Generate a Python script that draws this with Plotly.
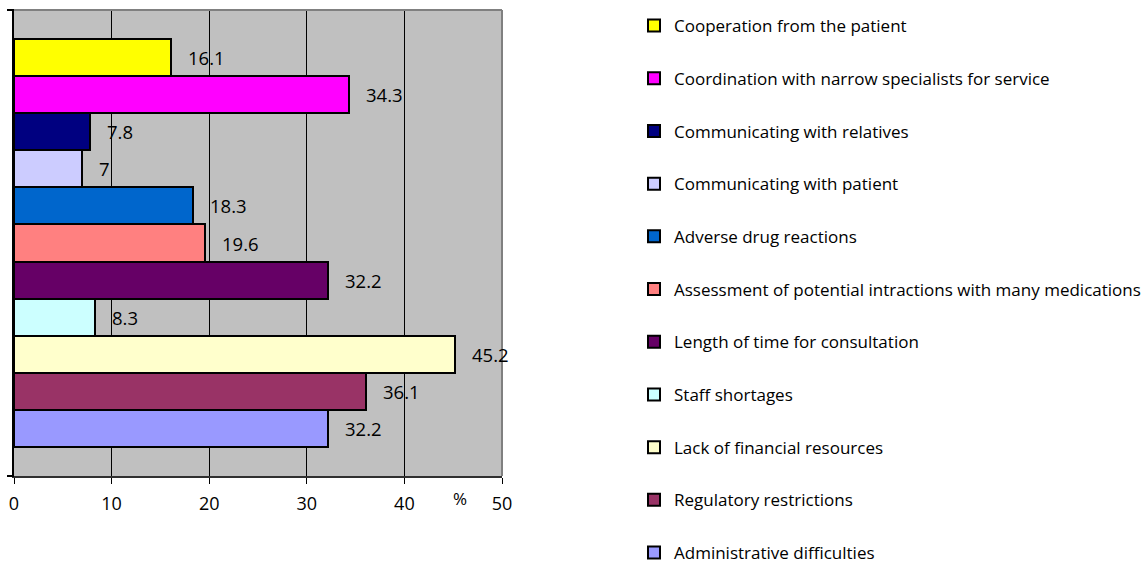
import plotly.graph_objects as go

# Survey difficulties, listed top to bottom as they appear in the chart
categories = [
    "Cooperation from the patient",
    "Coordination with narrow specialists for service",
    "Communicating with relatives",
    "Communicating with patient",
    "Adverse drug reactions",
    "Assessment of potential intractions with many medications",
    "Length of time for consultation",
    "Staff shortages",
    "Lack of financial resources",
    "Regulatory restrictions",
    "Administrative difficulties",
]
values = [16.1, 34.3, 7.8, 7, 18.3, 19.6, 32.2, 8.3, 45.2, 36.1, 32.2]
colors = [
    "#FFFF00", "#FF00FF", "#000080", "#CCCCFF", "#0066CC", "#FF8080",
    "#660066", "#CCFFFF", "#FFFFCC", "#993366", "#9999FF",
]
x_ticks = [0, 10, 20, 30, 40, 50]

FONT = "Open Sans"
W, H = 1148, 563
n = len(categories)
LEG_FONT = 17
BLOCK = 4          # entries per legend block
ROW = 52.7         # vertical distance between legend entries (px)
LEG_X = 634        # left edge of the legend (px)
LEG_TOP = 8        # top of the first legend block (px)
ITEM_H = LEG_FONT * 1.3 + 3

fig = go.Figure()
for i, (name, val, col) in enumerate(zip(categories, values, colors)):
    pos = n - 1 - i
    block = i // BLOCK
    fig.add_trace(go.Bar(
        x=[val], y=[pos], orientation="h", name=name,
        legendgroup=name, width=1.0,
        legend="legend" if block == 0 else f"legend{block + 1}",
        marker=dict(color=col, line=dict(color="black", width=2)),
        hoverinfo="x+name",
    ))
    fig.add_annotation(
        x=val, y=pos, text=f"{val:g}", showarrow=False,
        xanchor="left", yanchor="middle", xshift=15,
        font=dict(family=FONT, size=18.5, color="black"),
    )

# axis unit label
fig.add_annotation(
    x=45.7, y=0, xref="x", yref="paper", text="%", showarrow=False,
    xanchor="center", yanchor="middle", yshift=-22,
    font=dict(family=FONT, size=17, color="black"),
)

# grey frame on the top and right of the plotting area
for x0, y0, x1, y1 in [(0, 1, 1, 1), (1, 0, 1, 1)]:
    fig.add_shape(type="line", xref="paper", yref="paper",
                  x0=x0, y0=y0, x1=x1, y1=y1,
                  line=dict(color="#808080", width=2), layer="above")

# short outside ticks at both ends of the category axis
for yd in (0, 1):
    fig.add_shape(type="line", xref="paper", yref="paper",
                  xsizemode="pixel", xanchor=0, x0=-7, x1=0,
                  y0=yd, y1=yd, line=dict(color="black", width=2),
                  layer="above")

ylo, yhi = -1.27, n - 1 + 1.27

legend_style = dict(
    xref="container", yref="container", xanchor="left", yanchor="top",
    traceorder="grouped", tracegroupgap=ROW - ITEM_H,
    font=dict(family=FONT, size=LEG_FONT, color="black"),
    itemclick=False, itemdoubleclick=False, bgcolor="rgba(0,0,0,0)",
)
n_blocks = (n + BLOCK - 1) // BLOCK
legends = {}
for b in range(n_blocks):
    key = "legend" if b == 0 else f"legend{b + 1}"
    legends[key] = dict(legend_style, x=LEG_X / W,
                        y=1 - (LEG_TOP + b * BLOCK * ROW) / H)

fig.update_layout(
    width=W, height=H,
    margin=dict(l=14, r=646, t=10, b=87, autoexpand=False),
    paper_bgcolor="white", plot_bgcolor="#C0C0C0",
    barmode="overlay", bargap=0,
    showlegend=True,
    font=dict(family=FONT, color="black"),
    **legends,
)
fig.update_xaxes(
    range=[0, 50], tickvals=x_ticks, showgrid=True, gridcolor="black",
    gridwidth=1, zeroline=False, showline=True, linecolor="#303030",
    linewidth=2, ticks="outside", ticklen=6, tickcolor="black",
    ticklabelstandoff=4,
    tickfont=dict(family=FONT, size=18, color="black"),
)
fig.update_yaxes(
    range=[ylo, yhi], showticklabels=False, ticks="",
    showgrid=False, zeroline=False, showline=True, linecolor="black",
    linewidth=2,
)

fig.write_html("out.html")
